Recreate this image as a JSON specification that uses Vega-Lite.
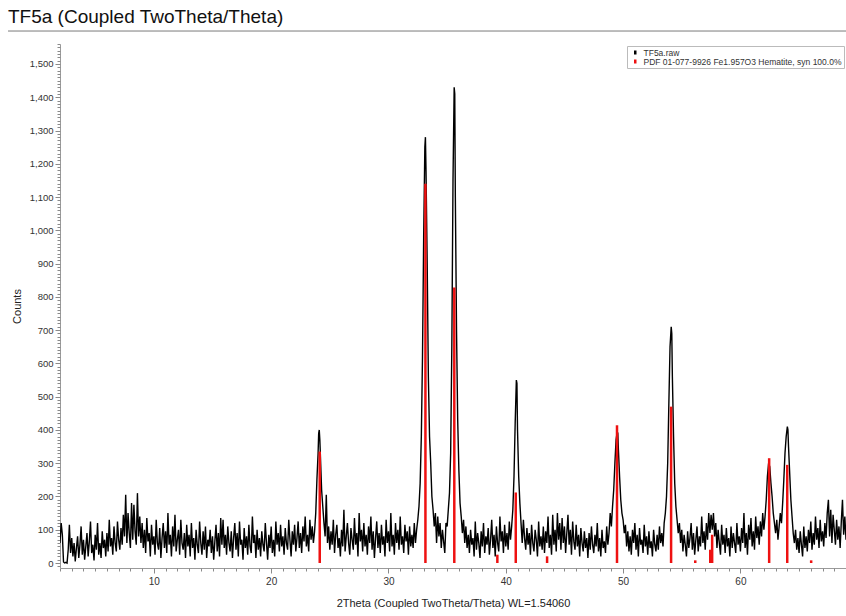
{
"$schema": "https://vega.github.io/schema/vega-lite/v6.json",
"width": 786,
"height": 524,
"autosize": "none",
"padding": {"left": 60, "top": 44, "right": 0, "bottom": 48},
"background": "white",
"config": {
  "font": "Liberation Sans",
  "view": {"stroke": null},
  "axis": {"grid": false, "domainColor": "#9a9a9a", "tickColor": "#8a8a8a", "labelColor": "#333333", "titleColor": "#222222", "labelFontSize": 10, "titleFontSize": 11, "titleFontWeight": "normal"},
  "legend": {"orient": "top-right", "offset": 2, "strokeColor": "#bbbbbb", "fillColor": "white", "padding": 2, "labelFontSize": 8.5, "labelLimit": 320, "labelColor": "#333333", "symbolType": "M0,-1L0,1", "symbolStrokeWidth": 2.5, "symbolSize": 16, "rowPadding": 0, "labelOffset": 4, "symbolOffset": 2, "clipHeight": 9}
},
"title": {"text": "TF5a (Coupled TwoTheta/Theta)", "anchor": "start", "frame": "group", "dx": -52, "offset": 4, "fontSize": 19, "fontWeight": "normal", "color": "#111111"},
"datasets": {
"raw": [
{"t":2.0,"c":60},{"t":2.1,"c":120},{"t":2.2,"c":85},{"t":2.3,"c":3},{"t":2.4,"c":0},{"t":2.5,"c":2},{"t":2.6,"c":0},{"t":2.7,"c":40},{"t":2.8,"c":115},{"t":2.9,"c":30},
{"t":3.0,"c":75},{"t":3.1,"c":20},{"t":3.2,"c":60},{"t":3.3,"c":5},{"t":3.4,"c":45},{"t":3.5,"c":80},{"t":3.6,"c":15},{"t":3.7,"c":55},{"t":3.8,"c":110},{"t":3.9,"c":25},
{"t":4.0,"c":70},{"t":4.1,"c":10},{"t":4.2,"c":50},{"t":4.3,"c":90},{"t":4.4,"c":20},{"t":4.5,"c":65},{"t":4.6,"c":125},{"t":4.7,"c":30},{"t":4.8,"c":55},{"t":4.9,"c":8},
{"t":5.0,"c":85},{"t":5.1,"c":40},{"t":5.2,"c":120},{"t":5.3,"c":25},{"t":5.4,"c":60},{"t":5.5,"c":15},{"t":5.6,"c":95},{"t":5.7,"c":45},{"t":5.8,"c":70},{"t":5.9,"c":20},
{"t":6.0,"c":90},{"t":6.1,"c":35},{"t":6.2,"c":130},{"t":6.3,"c":50},{"t":6.4,"c":75},{"t":6.5,"c":25},{"t":6.6,"c":110},{"t":6.7,"c":60},{"t":6.8,"c":35},{"t":6.9,"c":125},
{"t":7.0,"c":70},{"t":7.1,"c":40},{"t":7.2,"c":105},{"t":7.3,"c":55},{"t":7.4,"c":145},{"t":7.5,"c":80},{"t":7.6,"c":205},{"t":7.7,"c":60},{"t":7.8,"c":150},{"t":7.9,"c":90},
{"t":8.0,"c":45},{"t":8.1,"c":180},{"t":8.2,"c":70},{"t":8.3,"c":175},{"t":8.4,"c":95},{"t":8.5,"c":55},{"t":8.6,"c":210},{"t":8.7,"c":80},{"t":8.8,"c":140},{"t":8.9,"c":60},
{"t":9.0,"c":120},{"t":9.1,"c":45},{"t":9.2,"c":100},{"t":9.3,"c":30},{"t":9.4,"c":135},{"t":9.5,"c":65},{"t":9.6,"c":90},{"t":9.7,"c":20},{"t":9.8,"c":115},{"t":9.9,"c":55},
{"t":10.0,"c":80},{"t":10.1,"c":25},{"t":10.2,"c":130},{"t":10.3,"c":60},{"t":10.4,"c":40},{"t":10.5,"c":105},{"t":10.6,"c":15},{"t":10.7,"c":75},{"t":10.8,"c":120},{"t":10.9,"c":45},
{"t":11.0,"c":95},{"t":11.1,"c":30},{"t":11.2,"c":150},{"t":11.3,"c":55},{"t":11.4,"c":85},{"t":11.5,"c":20},{"t":11.6,"c":110},{"t":11.7,"c":50},{"t":11.8,"c":145},{"t":11.9,"c":35},
{"t":12.0,"c":70},{"t":12.1,"c":100},{"t":12.2,"c":25},{"t":12.3,"c":130},{"t":12.4,"c":60},{"t":12.5,"c":40},{"t":12.6,"c":90},{"t":12.7,"c":15},{"t":12.8,"c":115},{"t":12.9,"c":50},
{"t":13.0,"c":85},{"t":13.1,"c":20},{"t":13.2,"c":120},{"t":13.3,"c":45},{"t":13.4,"c":75},{"t":13.5,"c":10},{"t":13.6,"c":100},{"t":13.7,"c":55},{"t":13.8,"c":30},{"t":13.9,"c":125},
{"t":14.0,"c":60},{"t":14.1,"c":25},{"t":14.2,"c":95},{"t":14.3,"c":40},{"t":14.4,"c":110},{"t":14.5,"c":15},{"t":14.6,"c":70},{"t":14.7,"c":50},{"t":14.8,"c":100},{"t":14.9,"c":30},
{"t":15.0,"c":80},{"t":15.1,"c":10},{"t":15.2,"c":65},{"t":15.3,"c":115},{"t":15.4,"c":35},{"t":15.5,"c":90},{"t":15.6,"c":20},{"t":15.7,"c":135},{"t":15.8,"c":55},{"t":15.9,"c":130},
{"t":16.0,"c":45},{"t":16.1,"c":85},{"t":16.2,"c":25},{"t":16.3,"c":110},{"t":16.4,"c":60},{"t":16.5,"c":35},{"t":16.6,"c":95},{"t":16.7,"c":15},{"t":16.8,"c":75},{"t":16.9,"c":120},
{"t":17.0,"c":40},{"t":17.1,"c":90},{"t":17.2,"c":20},{"t":17.3,"c":125},{"t":17.4,"c":55},{"t":17.5,"c":70},{"t":17.6,"c":10},{"t":17.7,"c":105},{"t":17.8,"c":45},{"t":17.9,"c":80},
{"t":18.0,"c":25},{"t":18.1,"c":115},{"t":18.2,"c":50},{"t":18.3,"c":30},{"t":18.4,"c":140},{"t":18.5,"c":60},{"t":18.6,"c":85},{"t":18.7,"c":15},{"t":18.8,"c":100},{"t":18.9,"c":40},
{"t":19.0,"c":75},{"t":19.1,"c":20},{"t":19.2,"c":95},{"t":19.3,"c":55},{"t":19.4,"c":35},{"t":19.5,"c":120},{"t":19.6,"c":60},{"t":19.7,"c":10},{"t":19.8,"c":85},{"t":19.9,"c":45},
{"t":20.0,"c":110},{"t":20.1,"c":30},{"t":20.2,"c":70},{"t":20.3,"c":20},{"t":20.4,"c":125},{"t":20.5,"c":55},{"t":20.6,"c":90},{"t":20.7,"c":35},{"t":20.8,"c":115},{"t":20.9,"c":50},
{"t":21.0,"c":80},{"t":21.1,"c":25},{"t":21.2,"c":105},{"t":21.3,"c":60},{"t":21.4,"c":40},{"t":21.5,"c":130},{"t":21.6,"c":70},{"t":21.7,"c":20},{"t":21.8,"c":95},{"t":21.9,"c":55},
{"t":22.0,"c":115},{"t":22.1,"c":35},{"t":22.2,"c":75},{"t":22.3,"c":125},{"t":22.4,"c":45},{"t":22.5,"c":90},{"t":22.6,"c":30},{"t":22.7,"c":110},{"t":22.8,"c":65},{"t":22.9,"c":140},
{"t":23.0,"c":50},{"t":23.1,"c":85},{"t":23.2,"c":35},{"t":23.3,"c":130},{"t":23.4,"c":70},{"t":23.5,"c":110},{"t":23.6,"c":60},{"t":23.7,"c":95},{"t":23.8,"c":150},{"t":23.9,"c":250},
{"t":24.0,"c":330},{"t":24.05,"c":390},{"t":24.1,"c":400},{"t":24.15,"c":370},{"t":24.2,"c":320},{"t":24.3,"c":220},{"t":24.4,"c":170},{"t":24.5,"c":120},{"t":24.6,"c":80},{"t":24.7,"c":205},{"t":24.8,"c":60},{"t":24.9,"c":110},
{"t":25.0,"c":40},{"t":25.1,"c":95},{"t":25.2,"c":55},{"t":25.3,"c":130},{"t":25.4,"c":30},{"t":25.5,"c":85},{"t":25.6,"c":115},{"t":25.7,"c":45},{"t":25.8,"c":75},{"t":25.9,"c":20},
{"t":26.0,"c":100},{"t":26.1,"c":50},{"t":26.2,"c":160},{"t":26.3,"c":35},{"t":26.4,"c":80},{"t":26.5,"c":120},{"t":26.6,"c":60},{"t":26.7,"c":25},{"t":26.8,"c":105},{"t":26.9,"c":70},
{"t":27.0,"c":40},{"t":27.1,"c":135},{"t":27.2,"c":55},{"t":27.3,"c":90},{"t":27.4,"c":20},{"t":27.5,"c":150},{"t":27.6,"c":65},{"t":27.7,"c":100},{"t":27.8,"c":35},{"t":27.9,"c":120},
{"t":28.0,"c":50},{"t":28.1,"c":85},{"t":28.2,"c":25},{"t":28.3,"c":110},{"t":28.4,"c":60},{"t":28.5,"c":140},{"t":28.6,"c":40},{"t":28.7,"c":95},{"t":28.8,"c":15},{"t":28.9,"c":75},
{"t":29.0,"c":125},{"t":29.1,"c":45},{"t":29.2,"c":90},{"t":29.3,"c":30},{"t":29.4,"c":115},{"t":29.5,"c":55},{"t":29.6,"c":80},{"t":29.7,"c":20},{"t":29.8,"c":130},{"t":29.9,"c":60},
{"t":30.0,"c":95},{"t":30.1,"c":35},{"t":30.2,"c":150},{"t":30.3,"c":50},{"t":30.4,"c":85},{"t":30.5,"c":25},{"t":30.6,"c":120},{"t":30.7,"c":60},{"t":30.8,"c":100},{"t":30.9,"c":40},
{"t":31.0,"c":140},{"t":31.1,"c":55},{"t":31.2,"c":80},{"t":31.3,"c":30},{"t":31.4,"c":115},{"t":31.5,"c":65},{"t":31.6,"c":95},{"t":31.7,"c":25},{"t":31.8,"c":110},{"t":31.9,"c":50},
{"t":32.0,"c":85},{"t":32.1,"c":45},{"t":32.2,"c":120},{"t":32.3,"c":60},{"t":32.4,"c":100},{"t":32.5,"c":130},{"t":32.6,"c":170},{"t":32.7,"c":240},{"t":32.8,"c":380},{"t":32.9,"c":620},
{"t":33.0,"c":980},{"t":33.1,"c":1250},{"t":33.15,"c":1280},{"t":33.2,"c":1180},{"t":33.3,"c":900},{"t":33.4,"c":560},{"t":33.5,"c":380},{"t":33.6,"c":300},{"t":33.7,"c":200},{"t":33.8,"c":160},{"t":33.9,"c":110},
{"t":34.0,"c":150},{"t":34.1,"c":60},{"t":34.2,"c":140},{"t":34.3,"c":80},{"t":34.4,"c":120},{"t":34.5,"c":45},{"t":34.6,"c":100},{"t":34.7,"c":65},{"t":34.8,"c":30},{"t":34.9,"c":120},
{"t":35.0,"c":110},{"t":35.1,"c":160},{"t":35.2,"c":210},{"t":35.3,"c":330},{"t":35.4,"c":650},{"t":35.5,"c":1150},{"t":35.6,"c":1430},{"t":35.65,"c":1410},{"t":35.7,"c":1100},{"t":35.8,"c":700},{"t":35.9,"c":430},
{"t":36.0,"c":280},{"t":36.1,"c":180},{"t":36.2,"c":140},{"t":36.3,"c":90},{"t":36.4,"c":130},{"t":36.5,"c":60},{"t":36.6,"c":110},{"t":36.7,"c":45},{"t":36.8,"c":85},{"t":36.9,"c":30},
{"t":37.0,"c":100},{"t":37.1,"c":55},{"t":37.2,"c":75},{"t":37.3,"c":20},{"t":37.4,"c":125},{"t":37.5,"c":40},{"t":37.6,"c":90},{"t":37.7,"c":60},{"t":37.8,"c":15},{"t":37.9,"c":95},
{"t":38.0,"c":50},{"t":38.1,"c":120},{"t":38.2,"c":30},{"t":38.3,"c":80},{"t":38.4,"c":55},{"t":38.5,"c":105},{"t":38.6,"c":25},{"t":38.7,"c":70},{"t":38.8,"c":130},{"t":38.9,"c":45},
{"t":39.0,"c":85},{"t":39.1,"c":20},{"t":39.2,"c":110},{"t":39.3,"c":60},{"t":39.4,"c":35},{"t":39.5,"c":140},{"t":39.6,"c":65},{"t":39.7,"c":95},{"t":39.8,"c":30},{"t":39.9,"c":115},
{"t":40.0,"c":50},{"t":40.1,"c":90},{"t":40.2,"c":40},{"t":40.3,"c":125},{"t":40.4,"c":70},{"t":40.5,"c":110},{"t":40.6,"c":160},{"t":40.7,"c":260},{"t":40.8,"c":420},{"t":40.9,"c":550},{"t":40.95,"c":540},
{"t":41.0,"c":400},{"t":41.1,"c":260},{"t":41.2,"c":180},{"t":41.3,"c":120},{"t":41.4,"c":60},{"t":41.5,"c":130},{"t":41.6,"c":75},{"t":41.7,"c":40},{"t":41.8,"c":105},{"t":41.9,"c":55},
{"t":42.0,"c":90},{"t":42.1,"c":25},{"t":42.2,"c":115},{"t":42.3,"c":60},{"t":42.4,"c":35},{"t":42.5,"c":100},{"t":42.6,"c":70},{"t":42.7,"c":20},{"t":42.8,"c":125},{"t":42.9,"c":50},
{"t":43.0,"c":80},{"t":43.1,"c":40},{"t":43.2,"c":110},{"t":43.3,"c":30},{"t":43.4,"c":95},{"t":43.5,"c":60},{"t":43.6,"c":140},{"t":43.7,"c":45},{"t":43.8,"c":85},{"t":43.9,"c":25},
{"t":44.0,"c":145},{"t":44.1,"c":55},{"t":44.2,"c":100},{"t":44.3,"c":35},{"t":44.4,"c":150},{"t":44.5,"c":70},{"t":44.6,"c":120},{"t":44.7,"c":40},{"t":44.8,"c":135},{"t":44.9,"c":60},
{"t":45.0,"c":110},{"t":45.1,"c":30},{"t":45.2,"c":90},{"t":45.3,"c":145},{"t":45.4,"c":55},{"t":45.5,"c":100},{"t":45.6,"c":25},{"t":45.7,"c":125},{"t":45.8,"c":65},{"t":45.9,"c":40},
{"t":46.0,"c":115},{"t":46.1,"c":50},{"t":46.2,"c":85},{"t":46.3,"c":20},{"t":46.4,"c":105},{"t":46.5,"c":60},{"t":46.6,"c":35},{"t":46.7,"c":95},{"t":46.8,"c":45},{"t":46.9,"c":75},
{"t":47.0,"c":15},{"t":47.1,"c":90},{"t":47.2,"c":40},{"t":47.3,"c":110},{"t":47.4,"c":55},{"t":47.5,"c":30},{"t":47.6,"c":85},{"t":47.7,"c":50},{"t":47.8,"c":120},{"t":47.9,"c":35},
{"t":48.0,"c":75},{"t":48.1,"c":20},{"t":48.2,"c":100},{"t":48.3,"c":45},{"t":48.4,"c":65},{"t":48.5,"c":30},{"t":48.6,"c":110},{"t":48.7,"c":55},{"t":48.8,"c":90},{"t":48.9,"c":150},
{"t":49.0,"c":110},{"t":49.1,"c":170},{"t":49.2,"c":220},{"t":49.3,"c":300},{"t":49.4,"c":370},{"t":49.5,"c":395},{"t":49.55,"c":390},{"t":49.6,"c":340},{"t":49.7,"c":260},{"t":49.8,"c":190},{"t":49.9,"c":150},
{"t":50.0,"c":130},{"t":50.1,"c":90},{"t":50.2,"c":115},{"t":50.3,"c":50},{"t":50.4,"c":95},{"t":50.5,"c":35},{"t":50.6,"c":80},{"t":50.7,"c":25},{"t":50.8,"c":100},{"t":50.9,"c":60},
{"t":51.0,"c":120},{"t":51.1,"c":40},{"t":51.2,"c":85},{"t":51.3,"c":20},{"t":51.4,"c":105},{"t":51.5,"c":55},{"t":51.6,"c":70},{"t":51.7,"c":30},{"t":51.8,"c":115},{"t":51.9,"c":50},
{"t":52.0,"c":80},{"t":52.1,"c":25},{"t":52.2,"c":95},{"t":52.3,"c":45},{"t":52.4,"c":65},{"t":52.5,"c":20},{"t":52.6,"c":100},{"t":52.7,"c":55},{"t":52.8,"c":35},{"t":52.9,"c":85},
{"t":53.0,"c":40},{"t":53.1,"c":110},{"t":53.2,"c":60},{"t":53.3,"c":90},{"t":53.4,"c":50},{"t":53.5,"c":120},{"t":53.6,"c":150},{"t":53.7,"c":200},{"t":53.8,"c":300},{"t":53.9,"c":480},
{"t":54.0,"c":650},{"t":54.1,"c":710},{"t":54.15,"c":690},{"t":54.2,"c":560},{"t":54.3,"c":380},{"t":54.4,"c":240},{"t":54.5,"c":170},{"t":54.6,"c":130},{"t":54.7,"c":90},{"t":54.8,"c":120},{"t":54.9,"c":60},
{"t":55.0,"c":100},{"t":55.1,"c":35},{"t":55.2,"c":85},{"t":55.3,"c":55},{"t":55.4,"c":20},{"t":55.5,"c":95},{"t":55.6,"c":45},{"t":55.7,"c":75},{"t":55.8,"c":120},{"t":55.9,"c":40},
{"t":56.0,"c":90},{"t":56.1,"c":25},{"t":56.2,"c":70},{"t":56.3,"c":110},{"t":56.4,"c":35},{"t":56.5,"c":80},{"t":56.6,"c":50},{"t":56.7,"c":140},{"t":56.8,"c":60},{"t":56.9,"c":95},
{"t":57.0,"c":40},{"t":57.1,"c":120},{"t":57.2,"c":70},{"t":57.3,"c":150},{"t":57.4,"c":90},{"t":57.5,"c":145},{"t":57.6,"c":100},{"t":57.7,"c":150},{"t":57.8,"c":80},{"t":57.9,"c":120},
{"t":58.0,"c":45},{"t":58.1,"c":100},{"t":58.2,"c":60},{"t":58.3,"c":25},{"t":58.4,"c":115},{"t":58.5,"c":55},{"t":58.6,"c":85},{"t":58.7,"c":30},{"t":58.8,"c":105},{"t":58.9,"c":50},
{"t":59.0,"c":75},{"t":59.1,"c":20},{"t":59.2,"c":110},{"t":59.3,"c":45},{"t":59.4,"c":90},{"t":59.5,"c":60},{"t":59.6,"c":30},{"t":59.7,"c":120},{"t":59.8,"c":55},{"t":59.9,"c":80},
{"t":60.0,"c":35},{"t":60.1,"c":105},{"t":60.2,"c":60},{"t":60.3,"c":150},{"t":60.4,"c":45},{"t":60.5,"c":90},{"t":60.6,"c":25},{"t":60.7,"c":115},{"t":60.8,"c":70},{"t":60.9,"c":135},
{"t":61.0,"c":50},{"t":61.1,"c":95},{"t":61.2,"c":40},{"t":61.3,"c":140},{"t":61.4,"c":75},{"t":61.5,"c":110},{"t":61.6,"c":55},{"t":61.7,"c":125},{"t":61.8,"c":80},{"t":61.9,"c":150},
{"t":62.0,"c":100},{"t":62.1,"c":140},{"t":62.2,"c":190},{"t":62.3,"c":260},{"t":62.4,"c":300},{"t":62.5,"c":290},{"t":62.6,"c":240},{"t":62.7,"c":200},{"t":62.8,"c":150},{"t":62.9,"c":120},
{"t":63.0,"c":90},{"t":63.1,"c":130},{"t":63.2,"c":70},{"t":63.3,"c":110},{"t":63.4,"c":150},{"t":63.5,"c":120},{"t":63.6,"c":180},{"t":63.7,"c":250},{"t":63.8,"c":330},{"t":63.9,"c":380},
{"t":64.0,"c":410},{"t":64.05,"c":400},{"t":64.1,"c":350},{"t":64.2,"c":270},{"t":64.3,"c":190},{"t":64.4,"c":140},{"t":64.5,"c":90},{"t":64.6,"c":60},{"t":64.7,"c":100},{"t":64.8,"c":40},{"t":64.9,"c":75},
{"t":65.0,"c":30},{"t":65.1,"c":95},{"t":65.2,"c":55},{"t":65.3,"c":20},{"t":65.4,"c":110},{"t":65.5,"c":45},{"t":65.6,"c":80},{"t":65.7,"c":35},{"t":65.8,"c":100},{"t":65.9,"c":60},
{"t":66.0,"c":125},{"t":66.1,"c":40},{"t":66.2,"c":90},{"t":66.3,"c":55},{"t":66.4,"c":140},{"t":66.5,"c":70},{"t":66.6,"c":105},{"t":66.7,"c":45},{"t":66.8,"c":130},{"t":66.9,"c":65},
{"t":67.0,"c":95},{"t":67.1,"c":50},{"t":67.2,"c":120},{"t":67.3,"c":75},{"t":67.4,"c":150},{"t":67.5,"c":190},{"t":67.6,"c":80},{"t":67.7,"c":160},{"t":67.8,"c":60},{"t":67.9,"c":145},
{"t":68.0,"c":100},{"t":68.1,"c":55},{"t":68.2,"c":130},{"t":68.3,"c":70},{"t":68.4,"c":110},{"t":68.5,"c":45},{"t":68.6,"c":125},{"t":68.7,"c":190},{"t":68.8,"c":85},{"t":68.9,"c":140},{"t":69.0,"c":70}
],
"pdf": [
{"t":24.14,"c":335},{"t":33.15,"c":1140},{"t":35.61,"c":828},{"t":39.28,"c":25},{"t":40.85,"c":212},{"t":43.52,"c":20},{"t":49.48,"c":414},{"t":54.09,"c":470},{"t":56.15,"c":8},{"t":57.43,"c":40},{"t":57.59,"c":85},{"t":62.45,"c":315},{"t":63.99,"c":295},{"t":66.03,"c":8}
]
},
"layer": [
{
  "data": {"name": "raw"},
  "mark": {"type": "line", "strokeWidth": 1.4, "clip": true},
  "encoding": {
    "x": {"field": "t", "type": "quantitative", "scale": {"domain": [2, 69], "nice": false, "zero": false},
          "axis": {"title": "2Theta (Coupled TwoTheta/Theta) WL=1.54060", "values": [10, 20, 30, 40, 50, 60], "tickSize": 5, "labelPadding": 3, "titlePadding": 11}},
    "y": {"field": "c", "type": "quantitative", "scale": {"domain": [-15, 1560], "nice": false, "zero": false},
          "axis": {"title": "Counts", "values": [0,100,200,300,400,500,600,700,800,900,1000,1100,1200,1300,1400,1500], "format": ",d", "tickSize": 5, "labelPadding": 2, "labelFontSize": 9.5, "titlePadding": 7}},
    "color": {"datum": "TF5a.raw", "type": "nominal",
              "scale": {"domain": ["TF5a.raw", "PDF 01-077-9926 Fe1.957O3 Hematite, syn 100.0%"], "range": ["#000000", "#ee1111"]},
              "legend": {"title": null, "clipHeight": 9, "rowPadding": 0}}
  }
},
{
  "data": {"name": "pdf"},
  "mark": {"type": "rule", "strokeWidth": 2.5},
  "encoding": {
    "x": {"field": "t", "type": "quantitative", "axis": {"orient": "bottom", "labels": false, "title": null, "domain": false, "tickCount": 67, "tickSize": 3}},
    "y": {"field": "c", "type": "quantitative", "axis": {"orient": "left", "labels": false, "title": null, "domain": false, "tickCount": 150, "tickSize": 3}},
    "y2": {"datum": 0},
    "color": {"datum": "PDF 01-077-9926 Fe1.957O3 Hematite, syn 100.0%", "type": "nominal"}
  }
},
{
  "data": {"values": [{}]},
  "mark": {"type": "rule", "clip": false, "color": "#7a7a7a", "strokeWidth": 1},
  "encoding": {
    "x": {"datum": -2.43, "type": "quantitative", "axis": null},
    "x2": {"datum": 69},
    "y": {"datum": 1599, "type": "quantitative", "axis": null}
  }
}
],
"resolve": {"axis": {"x": "independent", "y": "independent"}}
}
